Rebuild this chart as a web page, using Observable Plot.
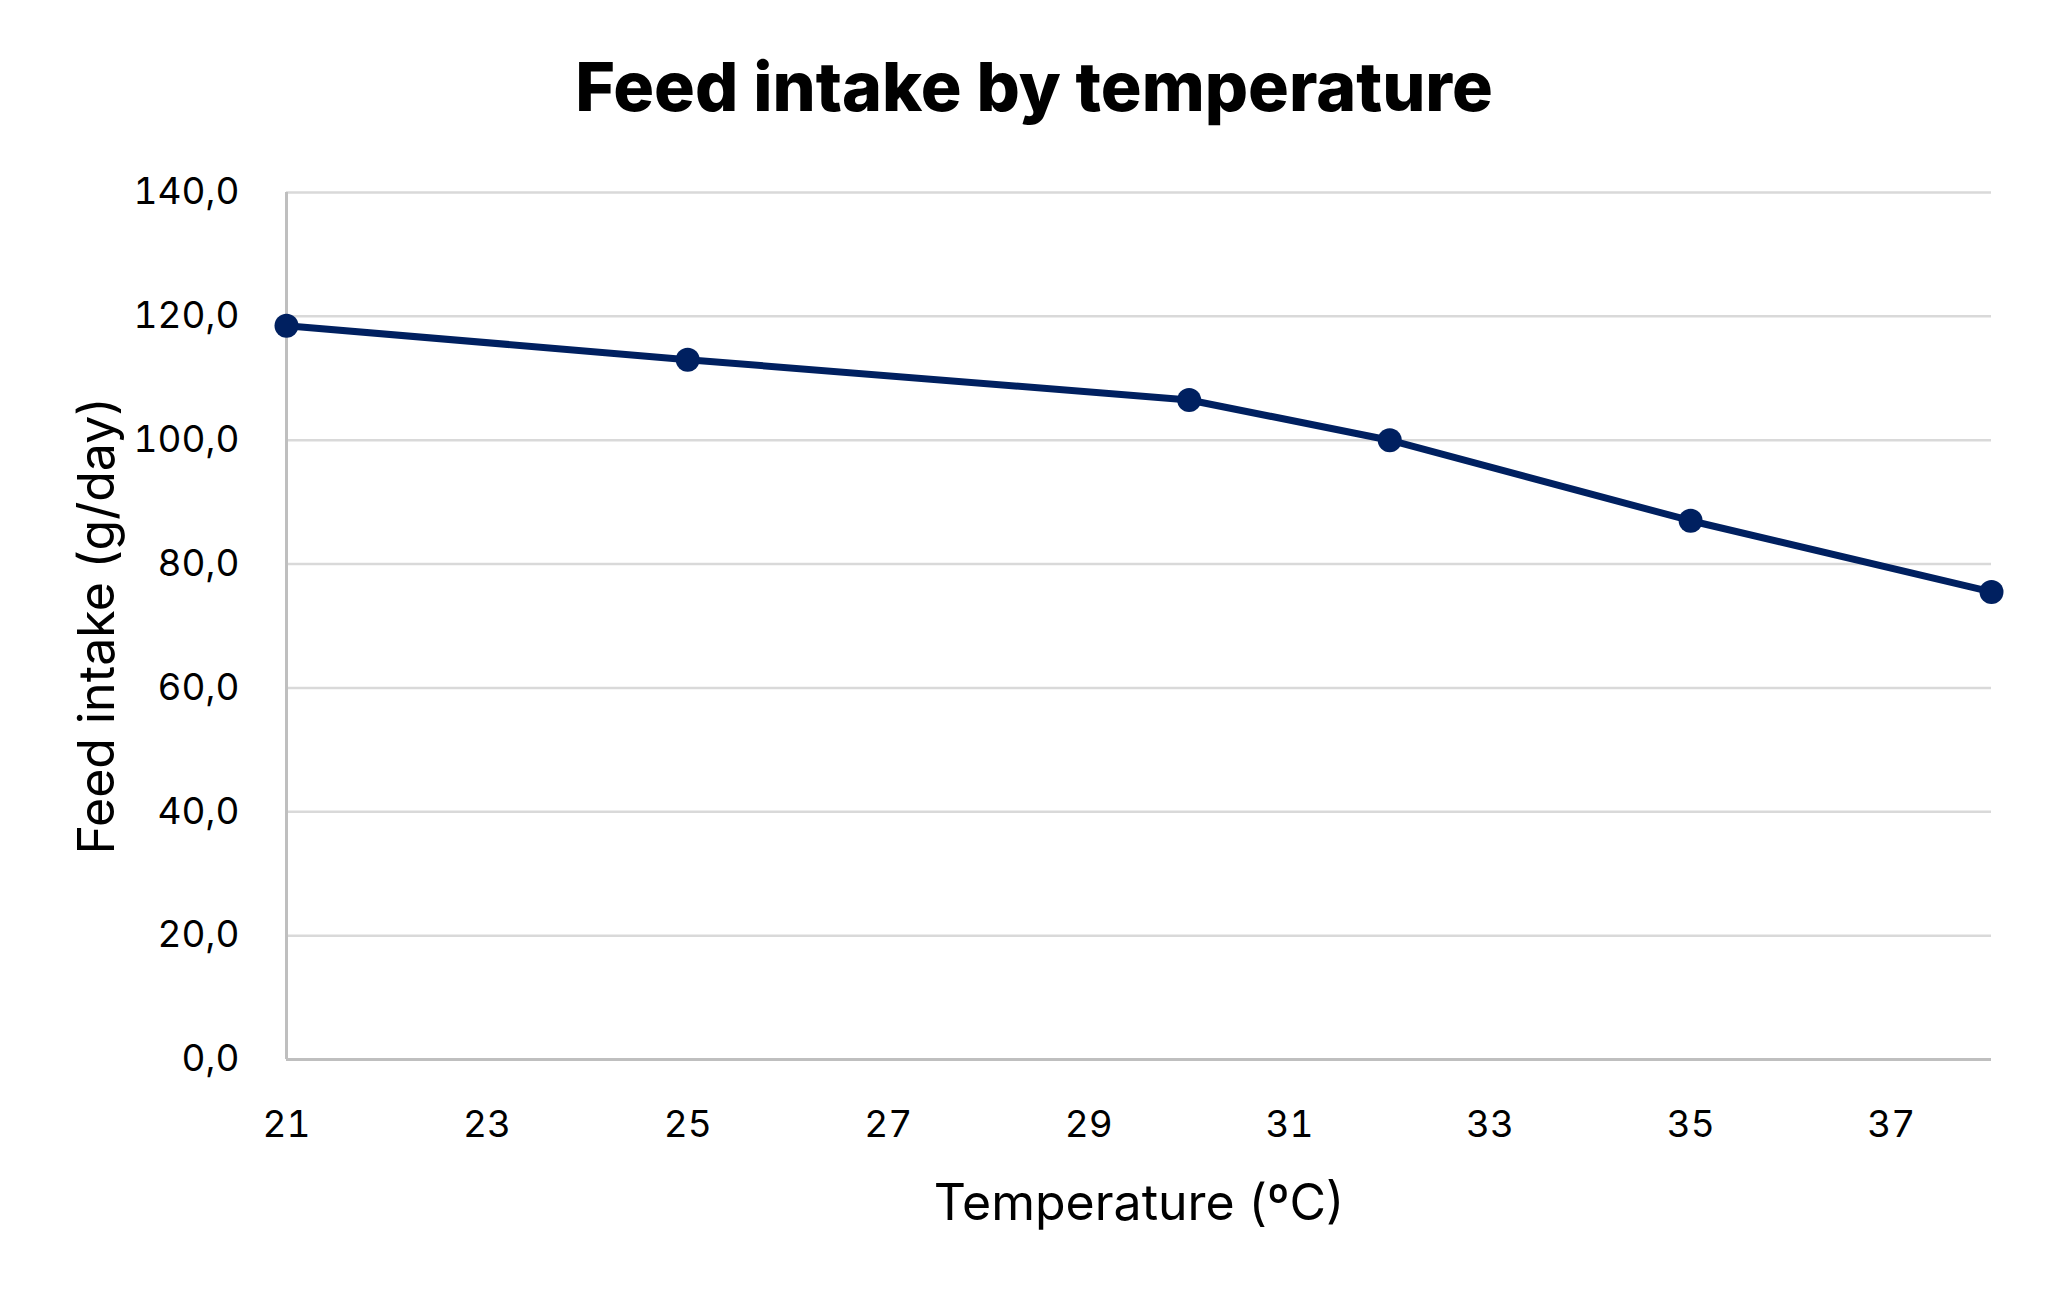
<!DOCTYPE html>
<html>
<head>
<meta charset="utf-8">
<script src="https://cdn.jsdelivr.net/npm/d3@7"></script>
<script src="https://cdn.jsdelivr.net/npm/@observablehq/plot@0.6"></script>
<style>
  html, body { margin: 0; padding: 0; background: #fff; }
  body { width: 2068px; overflow: hidden; }
  #title {
    box-sizing: border-box;
    height: 150px;
    padding-top: 45px;
    font-family: Inter, "Open Sans", sans-serif;
    font-weight: 800;
    font-size: 68px;
    line-height: 83px;
    text-align: center;
    color: #000;
  }
  #chart svg { display: block; }
</style>
</head>
<body>
<div id="title">Feed intake by temperature</div>
<div id="chart"></div>
<script>
const temperature = [21, 25, 30, 32, 35, 38];
const feedIntake = [118.5, 113, 106.5, 100, 87, 75.5];
const xTicks = [21, 23, 25, 27, 29, 31, 33, 35, 37];
const yTicks = [0, 20, 40, 60, 80, 100, 120, 140];
const xLabel = "Temperature (ºC)";
const yLabel = "Feed intake (g/day)";

const data = temperature.map((t, i) => ({t, v: feedIntake[i]}));
const fmt = d => d.toFixed(1).replace(".", ",");

const chart = Plot.plot({
  width: 2068,
  height: 1130,
  marginLeft: 286,
  marginRight: 77,
  marginTop: 42,
  marginBottom: 221,
  style: {fontFamily: "Inter, 'Open Sans', sans-serif", color: "#000", background: "#fff"},
  x: {domain: [21, 38]},
  y: {domain: [0, 140]},
  marks: [
    Plot.ruleY(yTicks.filter(d => d > 0), {stroke: "#d9d9d9", strokeWidth: 2.5}),
    Plot.ruleX([21], {stroke: "#bfbfbf", strokeWidth: 3}),
    Plot.ruleY([0], {stroke: "#bfbfbf", strokeWidth: 3}),
    Plot.axisX({ticks: xTicks, tickSize: 0, tickPadding: 51, fontSize: 37, label: null, fill: "#000"}),
    Plot.axisY({ticks: yTicks, tickSize: 0, tickPadding: 47, fontSize: 37, tickFormat: fmt, label: null, fill: "#000"}),
    Plot.line(data, {x: "t", y: "v", stroke: "#002060", strokeWidth: 7}),
    Plot.dot(data, {x: "t", y: "v", r: 12, fill: "#002060", stroke: "none"}),
    Plot.text([xLabel], {text: d => d, frameAnchor: "bottom", dy: 160, fontSize: 50, fill: "#000"}),
    Plot.text([yLabel], {text: d => d, frameAnchor: "left", textAnchor: "middle", dx: -189, rotate: -90, fontSize: 50, fill: "#000"})
  ]
});
document.getElementById("chart").appendChild(chart);
</script>
</body>
</html>
